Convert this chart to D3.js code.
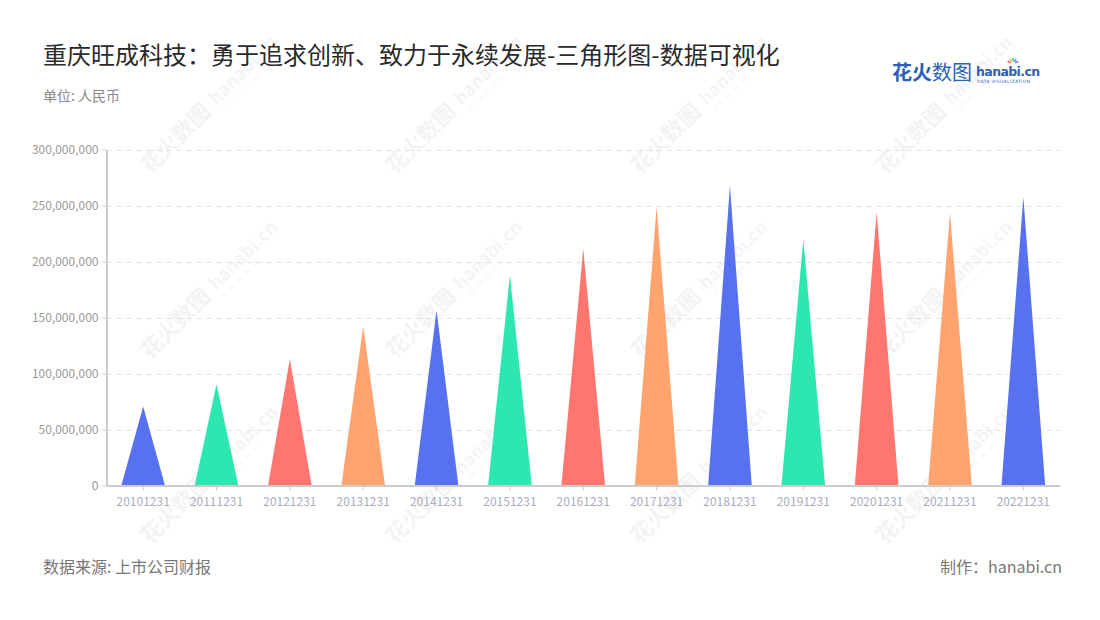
<!DOCTYPE html>
<html><head><meta charset="utf-8">
<script src="https://cdn.jsdelivr.net/npm/d3@7"></script>
<style>
body{margin:0;background:#fff;font-family:"Noto Sans CJK SC","Noto Sans",sans-serif;}
</style></head>
<body><svg id="chart" width="1100" height="620"></svg>
<script>
const categories = ["20101231","20111231","20121231","20131231","20141231","20151231","20161231","20171231","20181231","20191231","20201231","20211231","20221231"];
const values = [70500000, 90400000, 112800000, 142200000, 156500000, 187800000, 211600000, 248800000, 267500000, 219900000, 244300000, 243400000, 257700000];
const yTicks = [0, 50000000, 100000000, 150000000, 200000000, 250000000, 300000000];
const palette = ["#5872EF", "#2CE8B0", "#FF7670", "#FFA46F"];

(function(){
const svg = d3.select("#chart");
const pLeft = 106.5, pRight = 1060, pTop = 149.5, pBottom = 485.5;

// watermarks
const wm = svg.append("g").attr("pointer-events","none");
const wmX = [150, 395, 640, 885], wmY = [175, 360, 545];
wmY.forEach(yy => wmX.forEach(xx => {
  const g = wm.append("g").attr("transform", `translate(${xx},${yy}) rotate(-45)`);
  g.append("text").attr("x",0).attr("y",0).attr("font-size",22).attr("font-weight","bold")
    .attr("fill","#000").attr("opacity",0.045).text("花火数图");
  g.append("text").attr("x",96).attr("y",-2).attr("font-size",18).attr("font-weight","bold")
    .attr("fill","#000").attr("opacity",0.04).text("hanabi.cn");
  g.append("text").attr("x",98).attr("y",8).attr("font-size",5)
    .attr("fill","#000").attr("opacity",0.04).text("DATA VISUALIZATION");
}));

const x = d3.scaleBand().domain(categories).range([pLeft, pRight]).paddingInner(0).paddingOuter(0);
const y = d3.scaleLinear().domain([0, 300000000]).range([pBottom, pTop]);

// grid
svg.append("g").selectAll("line").data(yTicks.slice(1)).join("line")
  .attr("x1", pLeft).attr("x2", pRight).attr("y1", d => Math.round(y(d))+0.5).attr("y2", d => Math.round(y(d))+0.5)
  .attr("stroke","#e0e0e0").attr("stroke-dasharray","5,5");

// y axis
const yAxis = svg.append("g").attr("transform",`translate(${pLeft},0)`)
  .call(d3.axisLeft(y).tickValues(yTicks).tickSize(5).tickSizeOuter(0).tickFormat(d3.format(",")));
yAxis.select(".domain").attr("stroke","#ccc").attr("stroke-width",2);
yAxis.selectAll(".tick line").attr("stroke","#ccc");
yAxis.selectAll(".tick text").attr("fill","#999").attr("font-size",12).attr("x",-8)
  .attr("font-family","'Noto Sans CJK SC','Noto Sans',sans-serif");

// triangles
const bw = x.bandwidth()*0.595;
svg.append("g").selectAll("path").data(values).join("path")
  .attr("d", (d,i) => {
    const cx = x(categories[i]) + x.bandwidth()/2;
    return `M${cx-bw/2},${y(0)} L${cx},${y(d)} L${cx+bw/2},${y(0)} Z`;
  })
  .attr("fill", (d,i) => palette[i % 4]);

// x axis
const xAxis = svg.append("g").attr("transform",`translate(0,${pBottom})`)
  .call(d3.axisBottom(x).tickSize(5).tickSizeOuter(0));
xAxis.select(".domain").attr("stroke","#ccc").attr("stroke-width",2);
xAxis.selectAll(".tick line").attr("stroke","#ccc");
xAxis.selectAll(".tick text").attr("fill","#a9adbd").attr("font-size",12).attr("dy","1em")
  .attr("font-family","'Noto Sans CJK SC','Noto Sans',sans-serif");

// titles
svg.append("text").attr("x",43).attr("y",64).attr("font-size",24).attr("fill","#2a2a2a")
  .text("重庆旺成科技：勇于追求创新、致力于永续发展-三角形图-数据可视化");
svg.append("text").attr("x",43).attr("y",101).attr("font-size",14).attr("fill","#888").text("单位: 人民币");
svg.append("text").attr("x",43).attr("y",573).attr("font-size",16).attr("fill","#777").text("数据来源: 上市公司财报");
svg.append("text").attr("x",1062).attr("y",573).attr("font-size",16).attr("fill","#777").attr("text-anchor","end").text("制作：hanabi.cn");

// logo
const logo = svg.append("g");
logo.append("text").attr("x",892).attr("y",80).attr("font-size",20).attr("font-weight","bold").attr("fill","#2c5fb8").text("花火");
logo.append("text").attr("x",932).attr("y",80).attr("font-size",20).attr("fill","#2c5fb8").text("数图");
logo.append("text").attr("x",976).attr("y",76).attr("font-size",12.5).attr("font-weight","bold").attr("fill","#2c5fb8")
  .attr("font-family","'DejaVu Sans',sans-serif").attr("letter-spacing","-0.6").text("hanabi.cn");
logo.append("text").attr("x",977).attr("y",83).attr("font-size",4.4).attr("fill","#2c5fb8")
  .attr("font-family","'DejaVu Sans',sans-serif").attr("letter-spacing","0.4").text("DATA VISUALIZATION");
const sparks = ["#ff5a5a","#ffb340","#3fd08a","#3aa0ff","#b060ff"];
sparks.forEach((c,i) => {
  const a = -Math.PI/2 + (i-2)*0.55;
  logo.append("line").attr("x1",1013+Math.cos(a)*2.5).attr("y1",64+Math.sin(a)*2.5)
    .attr("x2",1013+Math.cos(a)*6).attr("y2",64+Math.sin(a)*6).attr("stroke",c).attr("stroke-width",1.5);
});
})();
</script>
</body></html>
